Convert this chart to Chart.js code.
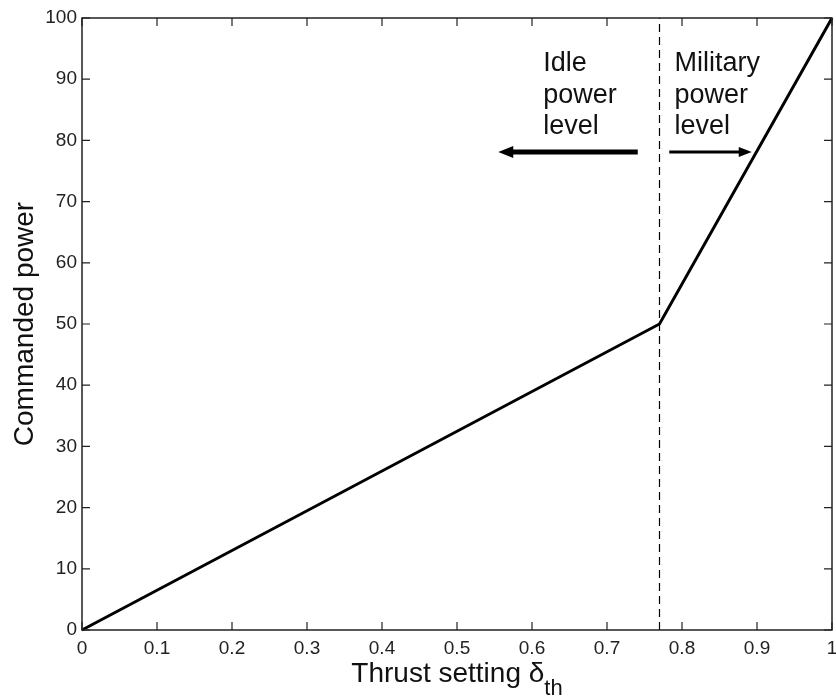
<!DOCTYPE html>
<html>
<head>
<meta charset="utf-8">
<script src="https://cdn.jsdelivr.net/npm/chart.js@4"></script>
<style>
  html, body { margin: 0; padding: 0; background: #fff; }
  #wrap { width: 836px; height: 700px; }
</style>
</head>
<body>
<div id="wrap"><canvas id="c" width="836" height="700"></canvas></div>
<script>
// Thrust setting breakpoints and the commanded power at each
const thrustSetting = [0, 0.77, 1];
const commandedPower = [0, 50, 100];
// Idle / military boundary
const boundaryX = 0.77;
const boundaryY = [0, 100];

const FONT = '"Liberation Sans", Arial, Helvetica, sans-serif';

// Annotation text and arrows, placed in data coordinates
const idleText = ['Idle', 'power', 'level'];
const militaryText = ['Military', 'power', 'level'];
const textRowsY = [92.6, 87.4, 82.2];
const idleTextX = 0.615;
const militaryTextX = 0.79;
const arrowY = 78.1;
const idleArrow = { from: 0.741, to: 0.555, width: 5, head: 15, half: 6 };
const militaryArrow = { from: 0.783, to: 0.893, width: 3, head: 13, half: 5 };

function drawArrow(ctx, xs, ys, a) {
  const x0 = xs.getPixelForValue(a.from);
  const x1 = xs.getPixelForValue(a.to);
  const y = ys.getPixelForValue(arrowY);
  const dir = Math.sign(x1 - x0);
  ctx.save();
  ctx.strokeStyle = '#000';
  ctx.fillStyle = '#000';
  ctx.lineWidth = a.width;
  ctx.beginPath();
  ctx.moveTo(x0, y);
  ctx.lineTo(x1 - dir * (a.head - 2), y);
  ctx.stroke();
  ctx.beginPath();
  ctx.moveTo(x1, y);
  ctx.lineTo(x1 - dir * a.head, y - a.half);
  ctx.lineTo(x1 - dir * a.head, y + a.half);
  ctx.closePath();
  ctx.fill();
  ctx.restore();
}

const framePlugin = {
  id: 'frame',
  afterDatasetsDraw(chart) {
    const ctx = chart.ctx;
    const { left, right, top, bottom } = chart.chartArea;
    const xs = chart.scales.x, ys = chart.scales.y;
    ctx.save();
    // box
    ctx.strokeStyle = '#222';
    ctx.lineWidth = 1.5;
    ctx.strokeRect(left, top, right - left, bottom - top);
    // inward ticks on all four sides
    const tl = 8;
    ctx.lineWidth = 1.2;
    ctx.beginPath();
    xs.ticks.forEach(t => {
      const px = xs.getPixelForValue(t.value);
      ctx.moveTo(px, bottom); ctx.lineTo(px, bottom - tl);
      ctx.moveTo(px, top); ctx.lineTo(px, top + tl);
    });
    ys.ticks.forEach(t => {
      const py = ys.getPixelForValue(t.value);
      ctx.moveTo(left, py); ctx.lineTo(left + tl, py);
      ctx.moveTo(right, py); ctx.lineTo(right - tl, py);
    });
    ctx.stroke();

    // annotation text
    ctx.fillStyle = '#111';
    ctx.font = '27px ' + FONT;
    ctx.textAlign = 'left';
    ctx.textBaseline = 'middle';
    idleText.forEach((s, i) => ctx.fillText(s, xs.getPixelForValue(idleTextX), ys.getPixelForValue(textRowsY[i])));
    militaryText.forEach((s, i) => ctx.fillText(s, xs.getPixelForValue(militaryTextX), ys.getPixelForValue(textRowsY[i])));
    drawArrow(ctx, xs, ys, idleArrow);
    drawArrow(ctx, xs, ys, militaryArrow);

    // y axis title
    ctx.save();
    ctx.translate(25, (top + bottom) / 2);
    ctx.rotate(-Math.PI / 2);
    ctx.font = '28px ' + FONT;
    ctx.textAlign = 'center';
    ctx.textBaseline = 'middle';
    ctx.fillStyle = '#111';
    ctx.fillText('Commanded power', 0, 0);
    ctx.restore();

    // x axis title with subscript
    ctx.font = '28px ' + FONT;
    const main = 'Thrust setting δ';
    const wMain = ctx.measureText(main).width;
    ctx.font = '22px ' + FONT;
    const wSub = ctx.measureText('th').width;
    const cx = (left + right) / 2;
    const startX = cx - (wMain + wSub) / 2;
    ctx.textAlign = 'left';
    ctx.textBaseline = 'alphabetic';
    ctx.font = '28px ' + FONT;
    ctx.fillText(main, startX, 682);
    ctx.font = '22px ' + FONT;
    ctx.fillText('th', startX + wMain, 695);
    ctx.restore();
  }
};

new Chart(document.getElementById('c'), {
  type: 'line',
  data: {
    datasets: [
      {
        data: thrustSetting.map((x, i) => ({ x, y: commandedPower[i] })),
        borderColor: '#000',
        borderWidth: 3,
        pointRadius: 0,
        tension: 0,
        clip: 4
      },
      {
        data: boundaryY.map(y => ({ x: boundaryX, y })),
        borderColor: '#000',
        borderWidth: 1.2,
        borderDash: [8, 5],
        pointRadius: 0
      }
    ]
  },
  options: {
    responsive: false,
    animation: false,
    devicePixelRatio: 1,
    layout: { padding: { top: 18, right: 4, left: 0, bottom: 0 } },
    plugins: { legend: { display: false }, tooltip: { enabled: false } },
    scales: {
      x: {
        type: 'linear',
        min: 0, max: 1,
        ticks: {
          stepSize: 0.1, color: '#222', font: { family: FONT, size: 19 }, padding: 7, maxRotation: 0,
          callback: v => String(Math.round(v * 10) / 10)
        },
        grid: { display: false, drawTicks: false },
        border: { display: false },
        afterFit(s) { s.height = 70; s.paddingLeft = 0; s.paddingRight = 0; }
      },
      y: {
        min: 0, max: 100,
        ticks: { stepSize: 10, color: '#222', font: { family: FONT, size: 19 }, padding: 5 },
        grid: { display: false, drawTicks: false },
        border: { display: false },
        afterFit(s) { s.width = 82; s.paddingTop = 0; s.paddingBottom = 0; }
      }
    }
  },
  plugins: [framePlugin]
});
</script>
</body>
</html>
